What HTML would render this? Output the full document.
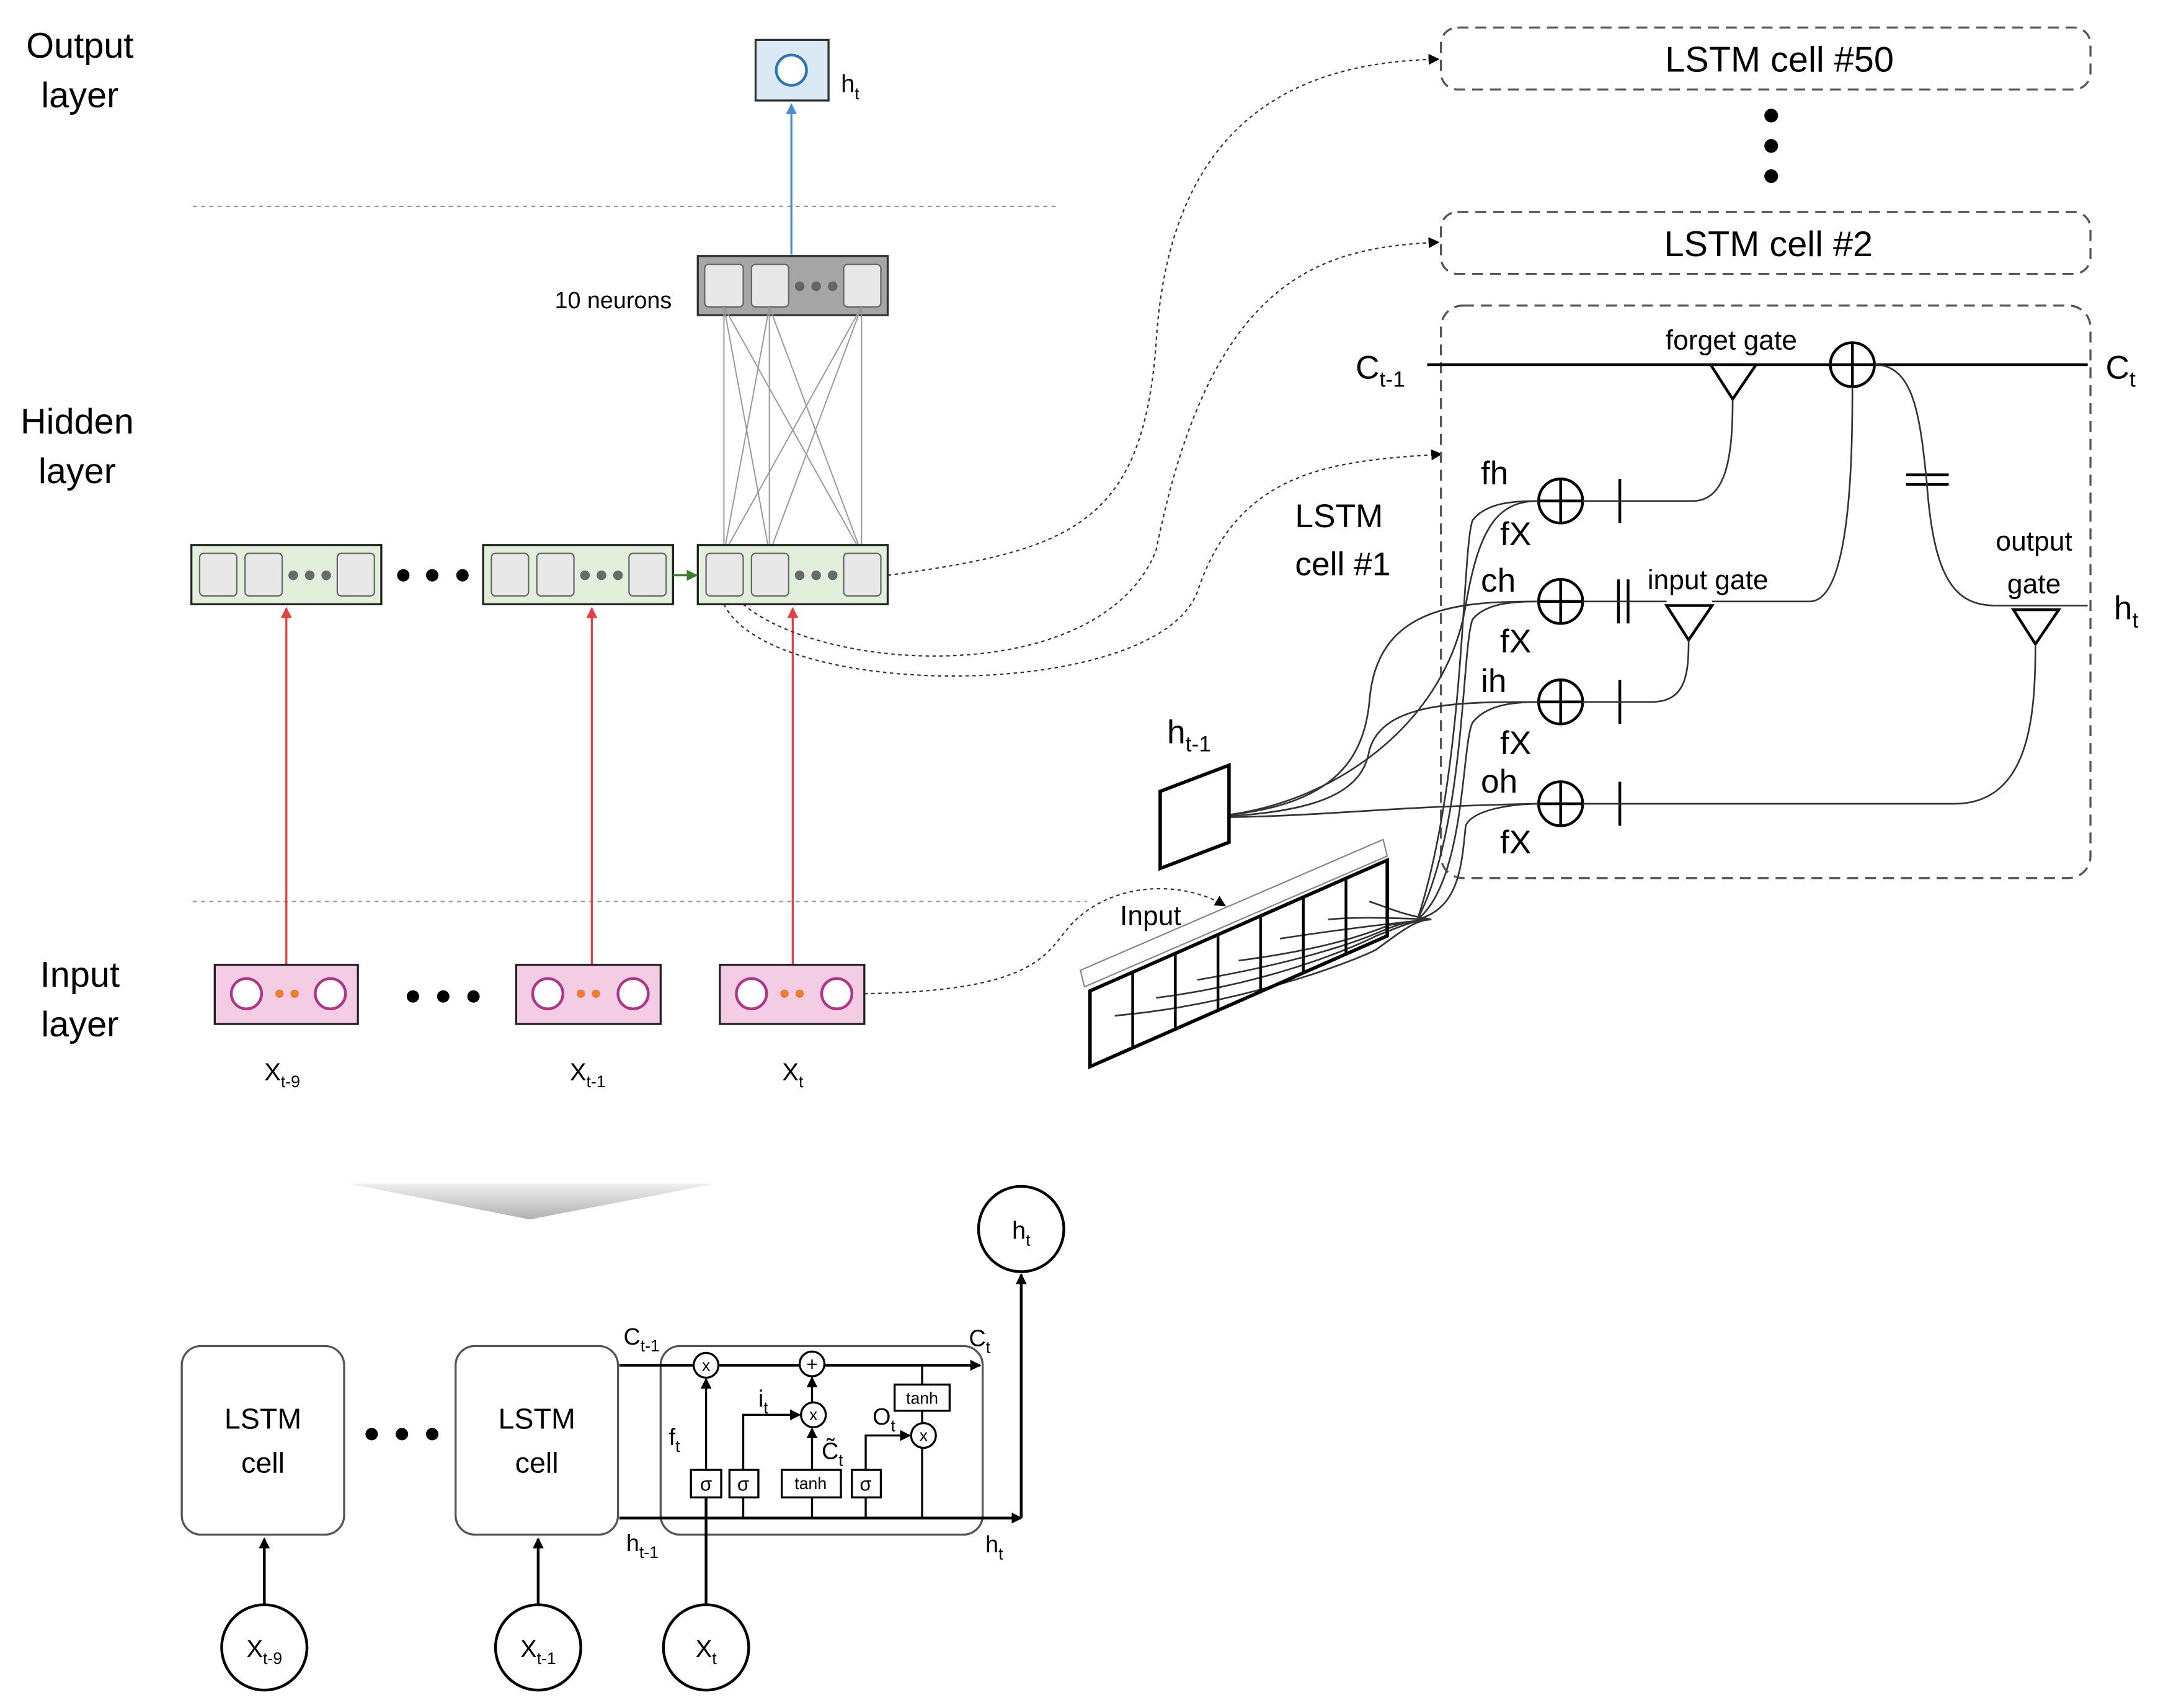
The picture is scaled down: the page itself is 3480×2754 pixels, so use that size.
<!DOCTYPE html>
<html><head><meta charset="utf-8"><style>
html,body{margin:0;padding:0;background:#fff;}
svg{display:block;}
text{font-family:"Liberation Sans",sans-serif;fill:#000;}
</style></head><body>
<svg width="3480" height="2754" viewBox="0 0 1568 1241" xmlns="http://www.w3.org/2000/svg">
<defs>
<marker id="ab" markerWidth="8" markerHeight="8" refX="7" refY="4" orient="auto" markerUnits="userSpaceOnUse"><path d="M0,0 L8,4 L0,8z" fill="#000"/></marker>
<marker id="abl" markerWidth="8" markerHeight="8" refX="7" refY="4" orient="auto" markerUnits="userSpaceOnUse"><path d="M0,0 L8,4 L0,8z" fill="#4a90d0"/></marker>
<marker id="ar" markerWidth="8" markerHeight="8" refX="7" refY="4" orient="auto" markerUnits="userSpaceOnUse"><path d="M0,0 L8,4 L0,8z" fill="#e84040"/></marker>
<marker id="ag" markerWidth="8" markerHeight="8" refX="7" refY="4" orient="auto" markerUnits="userSpaceOnUse"><path d="M0,0 L8,4 L0,8z" fill="#3a7d2a"/></marker>
<linearGradient id="gr" x1="0" y1="0" x2="0" y2="1"><stop offset="0" stop-color="#f0f0f0"/><stop offset="1" stop-color="#b0b0b0"/></linearGradient>
</defs>

<!-- layer labels -->
<g font-size="26" text-anchor="middle">
<text x="58" y="42">Output</text><text x="58" y="78">layer</text>
<text x="56" y="315">Hidden</text><text x="56" y="351">layer</text>
<text x="58" y="717">Input</text><text x="58" y="753">layer</text>
</g>
<line x1="140" y1="150" x2="770" y2="150" stroke="#999" stroke-dasharray="3,3"/>
<line x1="140" y1="655" x2="790" y2="655" stroke="#999" stroke-dasharray="3,3"/>

<!-- output -->
<rect x="549" y="29" width="53" height="44" fill="#dbe9f5" stroke="#333" stroke-width="1.5"/>
<circle cx="575" cy="51" r="11" fill="#fff" stroke="#2e75b6" stroke-width="2"/>
<text x="611" y="67" font-size="18">h<tspan font-size="12" dy="5">t</tspan></text>
<line x1="575" y1="185" x2="575" y2="76" stroke="#4a90d0" stroke-width="1.5" marker-end="url(#abl)"/>

<!-- 10 neurons -->
<text x="403" y="224" font-size="17">10 neurons</text>
<rect x="507" y="186" width="138" height="43" fill="#a6a6a6" stroke="#333" stroke-width="1.5"/>
<g fill="#e8e8e8" stroke="#666">
<rect x="512" y="192" width="28" height="31" rx="3"/><rect x="546" y="192" width="27" height="31" rx="3"/><rect x="613" y="192" width="27" height="31" rx="3"/>
</g>
<g fill="#666"><circle cx="581" cy="208" r="3.5"/><circle cx="593" cy="208" r="3.5"/><circle cx="605" cy="208" r="3.5"/></g>
<g stroke="#999" stroke-width="0.9">
<line x1="526" y1="223" x2="526" y2="402"/><line x1="526" y1="223" x2="559" y2="402"/><line x1="526" y1="223" x2="626" y2="402"/>
<line x1="559" y1="223" x2="526" y2="402"/><line x1="559" y1="223" x2="559" y2="402"/><line x1="559" y1="223" x2="626" y2="402"/>
<line x1="626" y1="223" x2="526" y2="402"/><line x1="626" y1="223" x2="559" y2="402"/><line x1="626" y1="223" x2="626" y2="402"/>
</g>

<!-- hidden boxes -->
<g>
<rect x="139" y="396" width="138" height="43" fill="#e2efda" stroke="#222" stroke-width="1.5"/>
<rect x="351" y="396" width="138" height="43" fill="#e2efda" stroke="#222" stroke-width="1.5"/>
<rect x="507" y="396" width="138" height="43" fill="#e2efda" stroke="#222" stroke-width="1.5"/>
<g fill="#e8e8e8" stroke="#666">
<rect x="145" y="402" width="27" height="31" rx="3"/><rect x="178" y="402" width="27" height="31" rx="3"/><rect x="245" y="402" width="27" height="31" rx="3"/>
<rect x="357" y="402" width="27" height="31" rx="3"/><rect x="390" y="402" width="27" height="31" rx="3"/><rect x="457" y="402" width="27" height="31" rx="3"/>
<rect x="513" y="402" width="27" height="31" rx="3"/><rect x="546" y="402" width="27" height="31" rx="3"/><rect x="613" y="402" width="27" height="31" rx="3"/>
</g>
<g fill="#6a6a6a">
<circle cx="213" cy="418" r="3.5"/><circle cx="225" cy="418" r="3.5"/><circle cx="237" cy="418" r="3.5"/>
<circle cx="425" cy="418" r="3.5"/><circle cx="437" cy="418" r="3.5"/><circle cx="449" cy="418" r="3.5"/>
<circle cx="581" cy="418" r="3.5"/><circle cx="593" cy="418" r="3.5"/><circle cx="605" cy="418" r="3.5"/>
</g>
</g>
<g fill="#000"><circle cx="293" cy="418" r="4.5"/><circle cx="314" cy="418" r="4.5"/><circle cx="336" cy="418" r="4.5"/></g>
<line x1="489" y1="418" x2="506" y2="418" stroke="#3a7d2a" stroke-width="1.5" marker-end="url(#ag)"/>

<!-- red arrows -->
<g stroke="#e84040" stroke-width="1.5">
<line x1="208" y1="701" x2="208" y2="442" marker-end="url(#ar)"/>
<line x1="430" y1="701" x2="430" y2="442" marker-end="url(#ar)"/>
<line x1="576" y1="701" x2="576" y2="442" marker-end="url(#ar)"/>
</g>

<!-- input boxes -->
<g>
<rect x="156" y="701" width="104" height="43" fill="#f4cce4" stroke="#222" stroke-width="1.5"/>
<rect x="375" y="701" width="105" height="43" fill="#f4cce4" stroke="#222" stroke-width="1.5"/>
<rect x="523" y="701" width="105" height="43" fill="#f4cce4" stroke="#222" stroke-width="1.5"/>
<g fill="#fff" stroke="#b0358a" stroke-width="2">
<circle cx="179" cy="722" r="11"/><circle cx="240" cy="722" r="11"/>
<circle cx="398" cy="722" r="11"/><circle cx="460" cy="722" r="11"/>
<circle cx="546" cy="722" r="11"/><circle cx="608" cy="722" r="11"/>
</g>
<g fill="#ed7d31"><circle cx="203" cy="722" r="3"/><circle cx="214" cy="722" r="3"/><circle cx="422" cy="722" r="3"/><circle cx="433" cy="722" r="3"/><circle cx="570" cy="722" r="3"/><circle cx="581" cy="722" r="3"/></g>
</g>
<g fill="#000"><circle cx="300" cy="724" r="4.5"/><circle cx="322" cy="724" r="4.5"/><circle cx="344" cy="724" r="4.5"/></g>
<g font-size="18" text-anchor="middle">
<text x="205" y="785">X<tspan font-size="12" dy="5">t-9</tspan></text>
<text x="427" y="785">X<tspan font-size="12" dy="5">t-1</tspan></text>
<text x="576" y="785">X<tspan font-size="12" dy="5">t</tspan></text>
</g>

<!-- dotted curves from hidden to LSTM cells -->
<g fill="none" stroke="#333" stroke-width="1" stroke-dasharray="2.5,2.5">
<path d="M645,418 C780,400 830,380 840,250 C850,80 950,45 1045,43" marker-end="url(#ab)"/>
<path d="M540,439 C600,490 800,500 840,400 C880,200 960,180 1045,176" marker-end="url(#ab)"/>
<path d="M526,439 C560,510 840,510 870,430 C900,340 970,335 1047,330" marker-end="url(#ab)"/>
<path d="M628,722 C760,720 760,690 780,670 C810,640 860,640 890,658" marker-end="url(#ab)"/>
</g>

<!-- LSTM cell #50, #2 -->
<rect x="1047" y="20" width="472" height="45" rx="12" fill="none" stroke="#555" stroke-width="1.5" stroke-dasharray="8,5"/>
<text x="1293" y="52" font-size="26" text-anchor="middle">LSTM cell #50</text>
<g fill="#000"><circle cx="1287" cy="84" r="5"/><circle cx="1287" cy="106" r="5"/><circle cx="1287" cy="128" r="5"/></g>
<rect x="1047" y="154" width="472" height="45" rx="12" fill="none" stroke="#555" stroke-width="1.5" stroke-dasharray="8,5"/>
<text x="1285" y="186" font-size="26" text-anchor="middle">LSTM cell #2</text>
<rect x="1047" y="222" width="472" height="416" rx="16" fill="none" stroke="#555" stroke-width="1.5" stroke-dasharray="8,5"/>

<!-- cell #1 internals -->
<line x1="1037" y1="265" x2="1517" y2="265" stroke="#000" stroke-width="2"/>
<text x="985" y="275" font-size="24">C<tspan font-size="16" dy="6">t-1</tspan></text>
<text x="1530" y="275" font-size="24">C<tspan font-size="16" dy="6">t</tspan></text>
<text x="1258" y="254" font-size="20" text-anchor="middle">forget gate</text>
<path d="M1243,265 L1276,265 L1259,290 Z" fill="#fff" stroke="#000" stroke-width="2"/>
<g fill="#fff" stroke="#000" stroke-width="2">
<circle cx="1346" cy="265" r="16"/>
<circle cx="1134" cy="364" r="16"/><circle cx="1134" cy="437" r="16"/><circle cx="1134" cy="510" r="16"/><circle cx="1134" cy="584" r="16"/>
</g>
<g stroke="#000" stroke-width="2">
<line x1="1330" y1="265" x2="1362" y2="265"/><line x1="1346" y1="249" x2="1346" y2="281"/>
<line x1="1118" y1="364" x2="1150" y2="364"/><line x1="1134" y1="348" x2="1134" y2="380"/>
<line x1="1118" y1="437" x2="1150" y2="437"/><line x1="1134" y1="421" x2="1134" y2="453"/>
<line x1="1118" y1="510" x2="1150" y2="510"/><line x1="1134" y1="494" x2="1134" y2="526"/>
<line x1="1118" y1="584" x2="1150" y2="584"/><line x1="1134" y1="568" x2="1134" y2="600"/>
<line x1="1177" y1="348" x2="1177" y2="380"/>
<line x1="1176" y1="421" x2="1176" y2="453"/><line x1="1183" y1="421" x2="1183" y2="453"/>
<line x1="1177" y1="494" x2="1177" y2="526"/>
<line x1="1177" y1="568" x2="1177" y2="600"/>
<line x1="1385" y1="345" x2="1416" y2="345"/><line x1="1385" y1="352" x2="1416" y2="352"/>
</g>
<g font-size="24">
<text x="1076" y="352">fh</text><text x="1090" y="396">fX</text>
<text x="1076" y="430">ch</text><text x="1090" y="474">fX</text>
<text x="1076" y="503">ih</text><text x="1090" y="548">fX</text>
<text x="1076" y="576">oh</text><text x="1090" y="620">fX</text>
<text x="941" y="383">LSTM</text><text x="941" y="418">cell #1</text>
<text x="848" y="540">h<tspan font-size="16" dy="6">t-1</tspan></text>
<text x="1536" y="450">h<tspan font-size="16" dy="6">t</tspan></text>
</g>
<g font-size="20" text-anchor="middle">
<text x="1241" y="428">input gate</text>
<text x="1478" y="400">output</text><text x="1478" y="431">gate</text>
<text x="836" y="672">Input</text>
</g>
<path d="M1211,440 L1244,440 L1227,465 Z" fill="#fff" stroke="#000" stroke-width="2"/>
<path d="M1463,443 L1496,443 L1479,468 Z" fill="#fff" stroke="#000" stroke-width="2"/>
<g fill="none" stroke="#333" stroke-width="1.2">
<path d="M1150,364 L1230,364 C1255,364 1259,330 1259,290"/>
<path d="M1150,437 L1211,437"/>
<path d="M1244,437 L1315,437 C1345,437 1346,330 1346,281"/>
<path d="M1150,510 L1200,510 C1225,510 1227,490 1227,465"/>
<path d="M1150,584 L1420,584 C1475,584 1479,520 1479,468"/>
<path d="M1362,265 C1390,265 1395,300 1400,350 C1405,420 1420,440 1450,440 L1517,440"/>
<!-- from h_{t-1} -->
<path d="M868,594 C960,590 990,560 995,510 C1000,440 1060,437 1118,437"/>
<path d="M868,594 C960,592 990,575 995,545 C1005,510 1060,510 1118,510"/>
<path d="M868,594 C960,594 1000,586 1118,584"/>
<path d="M868,594 C960,592 1050,530 1065,440 C1075,380 1090,364 1118,364"/>
<!-- from input -->
<path d="M1030,668 C1060,660 1062,630 1065,600 C1070,588 1100,584 1118,584"/>
<path d="M1030,668 C1065,640 1062,540 1070,525 C1080,512 1100,510 1118,510"/>
<path d="M1030,668 C1065,600 1062,470 1070,450 C1080,438 1100,437 1118,437"/>
<path d="M1030,668 C1065,560 1062,400 1070,378 C1080,365 1100,364 1118,364"/>
<path d="M810,738 C900,730 980,700 1000,690 C1020,675 1030,668 1040,668"/>
<path d="M840,725 C920,715 980,690 1000,680 C1020,672 1030,668 1040,668"/>
<path d="M870,712 C940,700 985,685 1005,676 C1020,670 1030,668 1040,668"/>
<path d="M900,698 C960,690 990,680 1010,672 L1040,668"/>
<path d="M930,682 C970,676 1000,672 1040,668"/>
<path d="M965,668 C990,666 1010,667 1040,668"/>
<path d="M995,655 C1010,660 1020,665 1040,668"/>
</g>
<!-- h_{t-1} parallelogram -->
<path d="M843,575 L893,556 L893,612 L843,631 Z" fill="#fff" stroke="#000" stroke-width="2.5"/>
<!-- input array -->
<path d="M785,705 L1005,610 L1008,622 L788,717 Z" fill="#fff" stroke="#888" stroke-width="1"/>
<path d="M792,720 L1008,625 L1008,680 L792,775 Z" fill="none" stroke="#000" stroke-width="2.5"/>
<g stroke="#000" stroke-width="2">
<line x1="823" y1="706" x2="823" y2="761"/><line x1="854" y1="693" x2="854" y2="748"/>
<line x1="885" y1="679" x2="885" y2="734"/><line x1="916" y1="665" x2="916" y2="720"/>
<line x1="947" y1="652" x2="947" y2="707"/><line x1="978" y1="638" x2="978" y2="693"/>
</g>

<!-- bottom -->
<path d="M253,860 L520,860 L385,886 Z" fill="url(#gr)"/>
<g fill="#fff" stroke="#000" stroke-width="2">
<circle cx="742" cy="893" r="31"/>
<circle cx="192" cy="1197" r="31"/><circle cx="391" cy="1197" r="31"/><circle cx="513" cy="1197" r="31"/>
</g>
<text x="742" y="900" font-size="18" text-anchor="middle">h<tspan font-size="12" dy="5">t</tspan></text>
<text x="192" y="1204" font-size="18" text-anchor="middle">X<tspan font-size="12" dy="5">t-9</tspan></text>
<text x="391" y="1204" font-size="18" text-anchor="middle">X<tspan font-size="12" dy="5">t-1</tspan></text>
<text x="513" y="1204" font-size="18" text-anchor="middle">X<tspan font-size="12" dy="5">t</tspan></text>
<rect x="132" y="978" width="118" height="137" rx="14" fill="#fff" stroke="#555" stroke-width="1.5"/>
<rect x="331" y="978" width="118" height="137" rx="14" fill="#fff" stroke="#555" stroke-width="1.5"/>
<rect x="480" y="978" width="234" height="137" rx="14" fill="#fff" stroke="#555" stroke-width="1.5"/>
<g font-size="21" text-anchor="middle"><text x="191" y="1038">LSTM</text><text x="191" y="1070">cell</text><text x="390" y="1038">LSTM</text><text x="390" y="1070">cell</text></g>
<g fill="#000"><circle cx="270" cy="1042" r="4.5"/><circle cx="292" cy="1042" r="4.5"/><circle cx="314" cy="1042" r="4.5"/></g>
<g stroke="#000" stroke-width="2" fill="none">
<line x1="192" y1="1166" x2="192" y2="1118" marker-end="url(#ab)"/>
<line x1="391" y1="1166" x2="391" y2="1118" marker-end="url(#ab)"/>
<line x1="450" y1="992" x2="712" y2="992" marker-end="url(#ab)"/>
<line x1="450" y1="1103" x2="742" y2="1103" marker-end="url(#ab)"/>
<line x1="742" y1="1103" x2="742" y2="926" marker-end="url(#ab)"/>
<line x1="513" y1="1166" x2="513" y2="1088"/>
</g>
<g stroke="#000" stroke-width="1.5" fill="none">
<line x1="513" y1="1103" x2="513" y2="1088"/>
<line x1="513" y1="1068" x2="513" y2="1002" marker-end="url(#ab)"/>
<line x1="540" y1="1103" x2="540" y2="1088"/>
<path d="M540,1068 L540,1028 L581,1028" marker-end="url(#ab)"/>
<line x1="590" y1="1103" x2="590" y2="1088"/>
<line x1="590" y1="1068" x2="590" y2="1038" marker-end="url(#ab)"/>
<line x1="590" y1="1019" x2="590" y2="1001" marker-end="url(#ab)"/>
<line x1="629" y1="1103" x2="629" y2="1088"/>
<path d="M629,1068 L629,1043 L661,1043" marker-end="url(#ab)"/>
<line x1="670" y1="992" x2="670" y2="1006"/>
<line x1="670" y1="1025" x2="670" y2="1034"/>
<line x1="670" y1="1052" x2="670" y2="1103"/>
</g>
<g fill="#fff" stroke="#000" stroke-width="1.5">
<circle cx="513" cy="992" r="9"/><circle cx="590" cy="991" r="9"/><circle cx="591" cy="1028" r="9"/><circle cx="671" cy="1043" r="9"/>
<rect x="502" y="1068" width="22" height="20"/><rect x="530" y="1068" width="21" height="20"/>
<rect x="568" y="1068" width="43" height="20"/><rect x="619" y="1068" width="21" height="20"/>
<rect x="650" y="1006" width="40" height="19"/>
</g>
<g font-size="12" text-anchor="middle">
<text x="513" y="996">x</text><text x="590" y="996" font-size="14">+</text><text x="591" y="1032">x</text><text x="671" y="1047">x</text>
<text x="513" y="1083" font-size="14">σ</text><text x="540" y="1083" font-size="14">σ</text><text x="589" y="1082">tanh</text><text x="629" y="1083" font-size="14">σ</text><text x="670" y="1020">tanh</text>
</g>
<g font-size="17">
<text x="453" y="977">C<tspan font-size="12" dy="5">t-1</tspan></text>
<text x="704" y="978">C<tspan font-size="12" dy="5">t</tspan></text>
<text x="486" y="1050">f<tspan font-size="12" dy="5">t</tspan></text>
<text x="551" y="1022">i<tspan font-size="12" dy="5">t</tspan></text>
<text x="634" y="1035">O<tspan font-size="12" dy="5">t</tspan></text>
<text x="597" y="1060">C̃<tspan font-size="12" dy="5">t</tspan></text>
<text x="455" y="1127">h<tspan font-size="12" dy="5">t-1</tspan></text>
<text x="716" y="1128">h<tspan font-size="12" dy="5">t</tspan></text>
</g>
</svg>
</body></html>
